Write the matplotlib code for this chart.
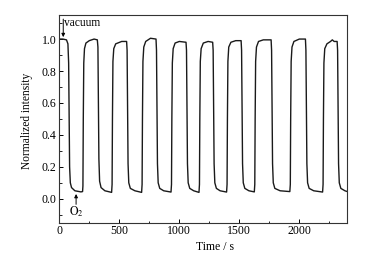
import matplotlib
matplotlib.use('Agg')
import matplotlib.pyplot as plt
from matplotlib.ticker import MultipleLocator

# ============ Dataset (vertices) ============
time_s = [
    0, 30, 60, 72, 78, 82, 86, 92, 102, 130, 180, 194,
    197, 200, 204, 210, 222, 250, 290, 317,
    322, 326, 330, 336, 348, 380, 436,
    440, 443, 447, 454, 470, 520, 561,
    565, 569, 573, 579, 592, 630, 686,
    690, 693, 697, 704, 720, 760, 806,
    810, 814, 818, 824, 837, 870, 931,
    935, 938, 942, 949, 965, 1000, 1056,
    1060, 1064, 1068, 1074, 1087, 1120, 1164,
    1168, 1171, 1175, 1182, 1200, 1240, 1278,
    1282, 1286, 1290, 1296, 1309, 1340, 1394,
    1398, 1401, 1405, 1412, 1430, 1470, 1515,
    1519, 1523, 1527, 1533, 1546, 1580, 1625,
    1629, 1632, 1636, 1643, 1660, 1700, 1765,
    1769, 1773, 1777, 1783, 1796, 1840, 1921,
    1925, 1928, 1932, 1939, 1955, 2000, 2051,
    2055, 2059, 2063, 2069, 2082, 2120, 2194,
    2198, 2201, 2205, 2212, 2230, 2260, 2275, 2290, 2315,
    2319, 2323, 2327, 2333, 2346, 2380, 2400,
]
intensity = [
    1.0, 1.0, 0.995, 0.97, 0.85, 0.5, 0.2, 0.1, 0.07, 0.05, 0.043, 0.045,
    0.08, 0.5, 0.85, 0.94, 0.975, 0.99, 1.0, 0.995,
    0.95, 0.6, 0.25, 0.11, 0.07, 0.05, 0.04,
    0.09, 0.5, 0.86, 0.94, 0.97, 0.985, 0.985,
    0.93, 0.55, 0.22, 0.10, 0.065, 0.05, 0.04,
    0.09, 0.5, 0.86, 0.95, 0.985, 1.005, 1.0,
    0.93, 0.55, 0.22, 0.10, 0.065, 0.05, 0.042,
    0.09, 0.5, 0.85, 0.94, 0.975, 0.985, 0.98,
    0.93, 0.55, 0.22, 0.10, 0.065, 0.05, 0.04,
    0.09, 0.5, 0.86, 0.94, 0.975, 0.985, 0.98,
    0.93, 0.55, 0.22, 0.10, 0.065, 0.05, 0.042,
    0.09, 0.5, 0.86, 0.95, 0.98, 0.99, 0.99,
    0.93, 0.55, 0.22, 0.10, 0.065, 0.05, 0.043,
    0.09, 0.5, 0.86, 0.95, 0.985, 0.995, 0.995,
    0.93, 0.55, 0.22, 0.10, 0.065, 0.05, 0.045,
    0.09, 0.5, 0.86, 0.95, 0.985, 1.0, 1.0,
    0.93, 0.55, 0.22, 0.10, 0.065, 0.05, 0.042,
    0.09, 0.5, 0.85, 0.94, 0.97, 0.985, 0.995, 0.985, 0.985,
    0.93, 0.55, 0.22, 0.10, 0.065, 0.05, 0.045,
]

plt.rcParams['font.family'] = 'Liberation Serif'
plt.rcParams['mathtext.fontset'] = 'stix'
plt.rcParams['font.size'] = 8.5

# ============ Plot ============
fig = plt.figure(figsize=(3.81, 2.56), dpi=100)
ax = fig.add_axes([0.1556, 0.130, 0.756, 0.811])
ax.plot(time_s, intensity, color='#1a1a1a', linewidth=1.0)

ax.set_xlim(0, 2400)
ax.set_ylim(-0.15, 1.15)
ax.xaxis.set_major_locator(MultipleLocator(500))
ax.xaxis.set_minor_locator(MultipleLocator(250))
ax.yaxis.set_major_locator(MultipleLocator(0.2))
ax.yaxis.set_minor_locator(MultipleLocator(0.1))
ax.tick_params(which='major', direction='in', length=3, width=0.7, pad=2)
ax.tick_params(which='minor', direction='in', length=1.8, width=0.6)
for s in ax.spines.values():
    s.set_linewidth(0.8)
    s.set_color('#333333')

ax.set_xlabel('Time / s', fontsize=8.5)
ax.xaxis.set_label_coords(0.54, -0.09)
ax.set_ylabel('Normalized intensity', fontsize=8.3)
ax.yaxis.set_label_coords(-0.09, 0.49)

# ============ Annotations ============
ax.annotate('', xy=(33, 1.012), xytext=(33, 1.125),
            arrowprops=dict(arrowstyle='-|>', color='black', lw=0.7,
                            mutation_scale=5, shrinkA=0, shrinkB=0))
ax.text(40, 1.10, 'vacuum', va='center', ha='left', fontsize=8.3)

ax.annotate('', xy=(140, 0.03), xytext=(140, -0.035),
            arrowprops=dict(arrowstyle='-|>', color='black', lw=0.7,
                            mutation_scale=5, shrinkA=0, shrinkB=0))
ax.text(143, -0.08, r'$\mathrm{O_2}$', va='center', ha='center', fontsize=8.5)

fig.savefig('out.png', dpi=100)
